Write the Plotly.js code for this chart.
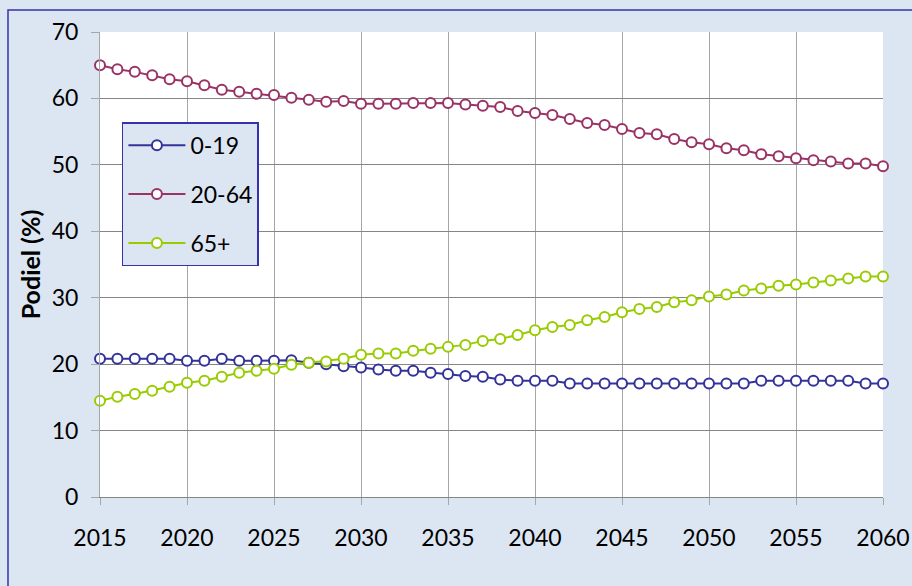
<!DOCTYPE html>
<html>
<head>
<meta charset="utf-8">
<script src="https://cdn.plot.ly/plotly-3.0.1.min.js"></script>
<style>
  html, body { margin: 0; padding: 0; background: #dce6f2; }
  #chart { width: 912px; height: 586px; }
</style>
</head>
<body>
<div id="chart"></div>
<script>
// Population shares by age group, 2015–2060 (%)
var years = [2015, 2016, 2017, 2018, 2019, 2020, 2021, 2022, 2023, 2024,
             2025, 2026, 2027, 2028, 2029, 2030, 2031, 2032, 2033, 2034,
             2035, 2036, 2037, 2038, 2039, 2040, 2041, 2042, 2043, 2044,
             2045, 2046, 2047, 2048, 2049, 2050, 2051, 2052, 2053, 2054,
             2055, 2056, 2057, 2058, 2059, 2060];

var age0to19 = [20.8, 20.8, 20.8, 20.8, 20.8, 20.5, 20.5, 20.8, 20.5, 20.5,
                20.5, 20.6, 20.2, 20.0, 19.7, 19.5, 19.2, 19.0, 19.0, 18.7,
                18.5, 18.2, 18.1, 17.7, 17.5, 17.5, 17.5, 17.1, 17.1, 17.1,
                17.1, 17.1, 17.1, 17.1, 17.1, 17.1, 17.1, 17.1, 17.5, 17.5,
                17.5, 17.5, 17.5, 17.5, 17.1, 17.1];

var age20to64 = [65.0, 64.4, 64.0, 63.5, 62.9, 62.6, 62.0, 61.3, 61.0, 60.7,
                 60.5, 60.1, 59.8, 59.5, 59.6, 59.2, 59.2, 59.2, 59.3, 59.3,
                 59.3, 59.1, 58.9, 58.7, 58.1, 57.8, 57.5, 56.9, 56.3, 56.0,
                 55.4, 54.8, 54.6, 53.9, 53.4, 53.1, 52.5, 52.2, 51.6, 51.3,
                 51.0, 50.7, 50.5, 50.2, 50.2, 49.8];

var age65plus = [14.5, 15.1, 15.5, 16.0, 16.6, 17.2, 17.5, 18.1, 18.7, 19.0,
                 19.3, 19.9, 20.2, 20.4, 20.8, 21.4, 21.6, 21.6, 22.0, 22.3,
                 22.6, 22.9, 23.5, 23.8, 24.4, 25.1, 25.6, 25.9, 26.6, 27.1,
                 27.8, 28.3, 28.6, 29.3, 29.6, 30.2, 30.5, 31.1, 31.4, 31.8,
                 32.0, 32.3, 32.6, 32.9, 33.2, 33.2];

var seriesNames = ['0-19', '20-64', '65+'];
var seriesColors = ['#333399', '#993366', '#99cc00'];
var seriesValues = [age0to19, age20to64, age65plus];

var FONT = 'Lato, "Open Sans", "DejaVu Sans", sans-serif';

var traces = seriesValues.map(function (vals, i) {
  return {
    x: years,
    y: vals,
    name: seriesNames[i],
    legendgroup: 'g' + i,
    type: 'scatter',
    mode: 'lines+markers',
    cliponaxis: false,
    line: { color: seriesColors[i], width: 2 },
    marker: {
      symbol: 'circle',
      size: 10,
      color: '#ffffff',
      line: { color: seriesColors[i], width: 2 }
    }
  };
});

var layout = {
  width: 912,
  height: 586,
  paper_bgcolor: '#dce6f2',
  plot_bgcolor: '#ffffff',
  margin: { l: 100, r: 29, t: 32, b: 89 },
  font: { family: FONT, size: 23, color: '#000000' },
  showlegend: true,
  legend: {
    x: 0.028, y: 0.806, xanchor: 'left', yanchor: 'top',
    bgcolor: '#dce6f2',
    bordercolor: '#3333aa',
    borderwidth: 1.5,
    tracegroupgap: 16,
    itemwidth: 57,
    font: { family: FONT, size: 23, color: '#000000' }
  },
  xaxis: {
    range: [2015, 2060],
    tick0: 2015,
    dtick: 5,
    showgrid: true,
    gridcolor: '#a6a6a6',
    gridwidth: 1,
    zeroline: false,
    showline: true,
    linecolor: '#868686',
    linewidth: 1,
    ticks: 'outside',
    ticklen: 7,
    tickcolor: '#a6a6a6',
    ticklabelstandoff: 13,
    tickfont: { family: FONT, size: 23, color: '#000000' },
    fixedrange: true
  },
  yaxis: {
    range: [0, 70],
    dtick: 10,
    showgrid: true,
    gridcolor: '#868686',
    gridwidth: 1,
    zeroline: false,
    showline: true,
    linecolor: '#a6a6a6',
    linewidth: 1,
    ticks: 'outside',
    ticklen: 8,
    tickcolor: '#a6a6a6',
    ticklabelstandoff: 8,
    tickfont: { family: FONT, size: 23, color: '#000000' },
    title: {
      text: '<b>Podiel (%)</b>',
      standoff: 3,
      font: { family: FONT, size: 25, color: '#000000' }
    },
    fixedrange: true
  },
  shapes: [
    {
      // outer frame of the chart area
      type: 'rect', xref: 'paper', yref: 'paper', layer: 'above',
      x0: -0.1175, x1: 1.06, y0: -0.25, y1: 1.0473,
      line: { color: '#3333aa', width: 1.5 },
      fillcolor: 'rgba(0,0,0,0)'
    }
  ]
};

Plotly.newPlot('chart', traces, layout, { displayModeBar: false, staticPlot: true });
</script>
</body>
</html>
